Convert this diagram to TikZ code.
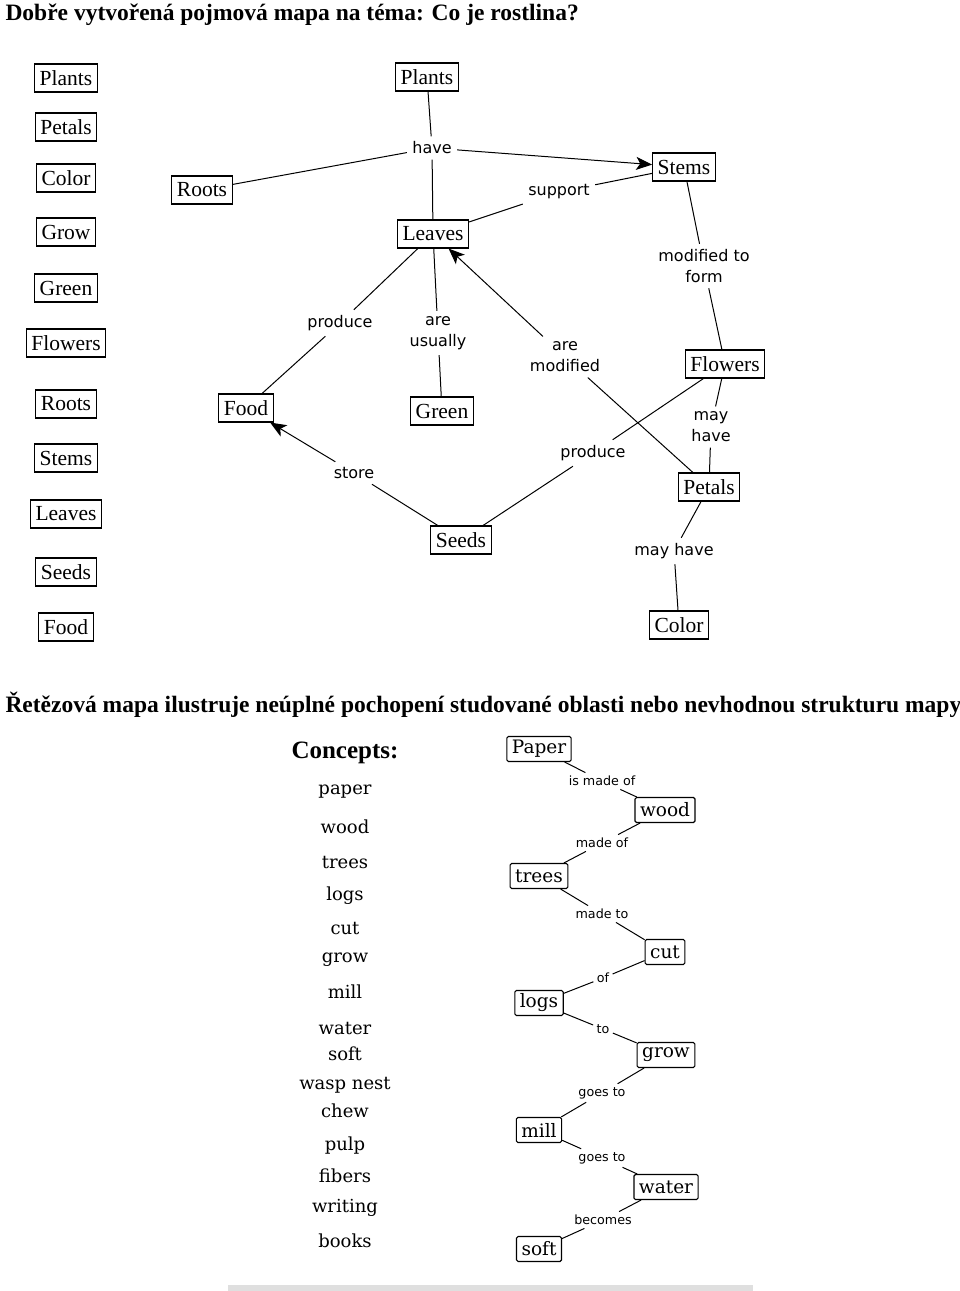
\documentclass[tikz,border=0pt]{standalone}
\usepackage{fontspec}
\setmainfont{Liberation Serif}
\newfontfamily\slabfont{DejaVu Serif}
\newfontfamily\linkfont{DejaVu Sans}
\usetikzlibrary{
positioning,%
arrows.meta
}
\tikzset{
    concept/.style={draw, line width=1.1pt, inner xsep=5pt, inner ysep=2pt, minimum height=28pt, font=\fontsize{21.5}{24}\selectfont},
    link/.style={inner sep=5pt, align=center, font=\linkfont\fontsize{16}{21}\selectfont},
    chainbox/.style={draw, line width=1.1pt, rounded corners=1.5pt, inner xsep=5pt, inner ysep=2pt, minimum height=25pt, font=\slabfont\fontsize{18.5}{20}\selectfont},
    chainlink/.style={inner sep=3pt, font=\linkfont\fontsize{12.7}{14}\selectfont},
    word/.style={inner sep=1pt, font=\slabfont\fontsize{18}{20}\selectfont},
    headline/.style={anchor=base west, inner sep=0pt, font=\bfseries\fontsize{23.5}{26}\selectfont},
    arr/.style={-{Stealth[length=16pt, width=13pt, inset=4pt]}}
}

\begin{document}
\begin{tikzpicture}[x=1pt, y=-1pt, line width=1pt]
    \useasboundingbox (0,0) rectangle (960,1291);
    \node[headline] (title) at (5,20) {Dobře vytvořená pojmová mapa na téma: Co je rostlina?};
    \node[headline] (subtitle) at (5,712) {Řetězová mapa ilustruje neúplné pochopení studované oblasti nebo nevhodnou strukturu mapy};

    % list of concepts, left column
    \foreach \w/\y in {Plants/78, Petals/127, Color/178, Grow/232, Green/288, Flowers/343, Roots/404, Stems/458, Leaves/514, Seeds/572, Food/627}
        \node[concept] (list-\w) at (66,\y) {\w};

    % concept map
    \node[concept] (plants) at (427,77) {Plants};
    \node[concept] (roots) at (202,190) {Roots};
    \node[concept] (leaves) at (433,234) {Leaves};
    \node[concept] (stems) at (684,167) {Stems};
    \node[concept] (flowers) at (725,364) {Flowers};
    \node[concept] (food) at (246,408) {Food};
    \node[concept] (green) at (442,411) {Green};
    \node[concept] (seeds) at (461,540) {Seeds};
    \node[concept] (petals) at (709,487) {Petals};
    \node[concept] (color) at (679,625) {Color};

    \node[link] (have) at (432,148) {have};
    \node[link] (support) at (559,192) {support};
    \node[link] (form) at (704,266) {modified to\\form};
    \node[link] (produce1) at (340,323) {produce};
    \node[link] (usually) at (438,333) {are\\usually};
    \node[link] (modified) at (565,357) {are\\modified};
    \node[link] (store) at (354,473) {store};
    \node[link] (produce2) at (593,453) {produce};
    \node[link] (mayhave1) at (711,427) {may\\have};
    \node[link] (mayhave2) at (674,551) {may have};

    \draw (plants) -- (have) -- (leaves);
    \draw (roots) -- (have);
    \draw[arr] (have) -- (stems);
    \draw (leaves) -- (support) -- (stems);
    \draw (stems) -- (form) -- (flowers);
    \draw (leaves) -- (produce1) -- (food);
    \draw (leaves) -- (usually) -- (green);
    \draw (petals) -- (modified);
    \draw[arr] (modified) -- (leaves);
    \draw (seeds) -- (store);
    \draw[arr] (store) -- (food);
    \draw (seeds) -- (produce2) -- (flowers);
    \draw (flowers) -- (mayhave1) -- (petals);
    \draw (petals) -- (mayhave2) -- (color);

    % chain map
    \node[word, font=\bfseries\fontsize{25}{28}\selectfont] (concepts) at (345,753) {Concepts:};
    \foreach \w/\y [count=\i] in {paper/792, wood/827, trees/862, logs/896, cut/928, grow/960, mill/992, water/1028, soft/1054, wasp nest/1085, chew/1111, pulp/1146, fibers/1176, writing/1208, books/1241}
        \node[word] (word-\i) at (345,\y) {\w};

    \node[chainbox] (paper) at (539,749) {Paper};
    \node[chainbox] (wood) at (665,810) {wood};
    \node[chainbox] (trees) at (539,876) {trees};
    \node[chainbox] (cut) at (665,952) {cut};
    \node[chainbox] (logs) at (539,1003) {logs};
    \node[chainbox] (grow) at (666,1055) {grow};
    \node[chainbox] (mill) at (539,1130) {mill};
    \node[chainbox] (water) at (666,1187) {water};
    \node[chainbox] (soft) at (539,1249) {soft};

    \node[chainlink] (l1) at (602,781) {is made of};
    \node[chainlink] (l2) at (602,843) {made of};
    \node[chainlink] (l3) at (602,914) {made to};
    \node[chainlink] (l4) at (603,978) {of};
    \node[chainlink] (l5) at (603,1029) {to};
    \node[chainlink] (l6) at (602,1093) {goes to};
    \node[chainlink] (l7) at (602,1158) {goes to};
    \node[chainlink] (l8) at (603,1220) {becomes};

    \draw (paper) -- (l1) -- (wood);
    \draw (wood) -- (l2) -- (trees);
    \draw (trees) -- (l3) -- (cut);
    \draw (cut) -- (l4) -- (logs);
    \draw (logs) -- (l5) -- (grow);
    \draw (grow) -- (l6) -- (mill);
    \draw (mill) -- (l7) -- (water);
    \draw (water) -- (l8) -- (soft);

    \fill[gray!25] (228,1285) rectangle (753,1291);
\end{tikzpicture}
\end{document}
